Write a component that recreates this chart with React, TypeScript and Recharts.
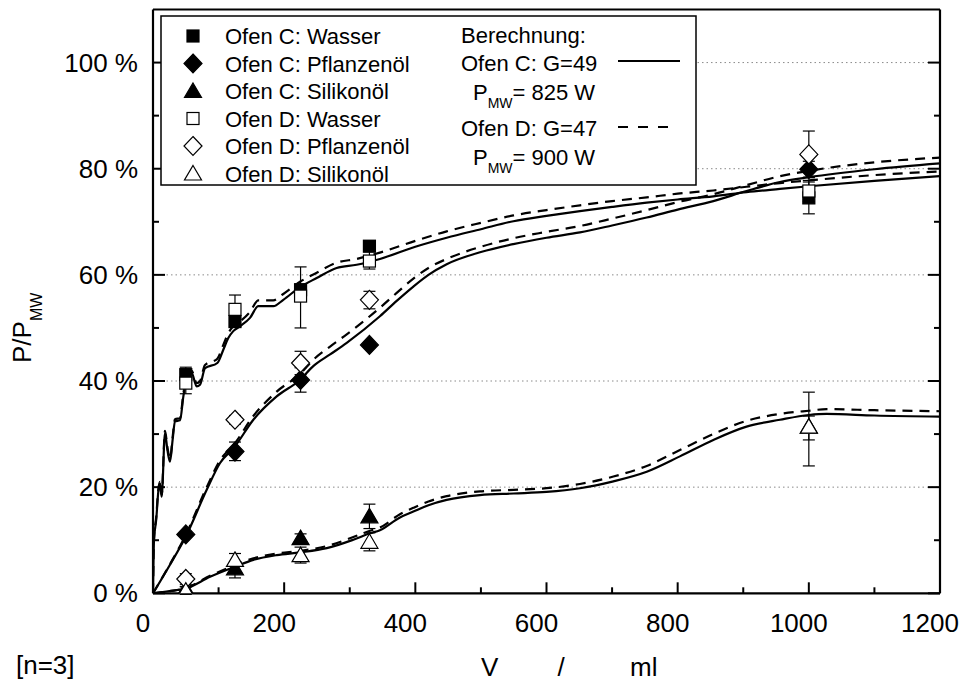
import React from "react";
import { ComposedChart, Line, Scatter, XAxis, YAxis, ErrorBar, ReferenceLine } from "recharts";

const FONT = "'Liberation Sans', Arial, Helvetica, sans-serif";

// measured volumes (ml)
const volumes = [50, 125, 225, 330, 1000];

// measured P/P_MW in %, Ofen C and Ofen D
const cWasser = [41.2, 51.2, 57.2, 65.4, 74.5];
const cPflanze = [11.1, 26.7, 40.2, 46.8, 79.9];
const cSilikon = [0.8, 4.7, 10.4, 14.5, 31.4];
const dWasser = [39.6, 53.5, 56.0, 62.6, 75.8];
const dPflanze = [2.7, 32.7, 43.4, 55.3, 82.7];
const dSilikon = [0.5, 6.3, 7.2, 9.7, 31.4];

// error bars [down, up]
const cWasserErr = [[1, 1], [1, 1], [1, 1], [1, 1], [3, 3]];
const cPflanzeErr = [[0.5, 0.5], [1.7, 1.8], [2.3, 2.3], [0.5, 0.5], [1.5, 1.5]];
const cSilikonErr = [[0.5, 0.5], [1.8, 1], [0.8, 0.8], [2.3, 2.3], [2.5, 6.5]];
const dWasserErr = [[2, 3], [2.5, 2.7], [6, 5.5], [1.5, 1.9], [2, 2]];
const dPflanzeErr = [[1, 1], [0.8, 0.8], [2.2, 2.2], [1.7, 1.6], [4.4, 4.4]];
const dSilikonErr = [[0.7, 0.7], [1.2, 1.2], [1.5, 1.5], [1.7, 1.7], [7.4, 2]];

// calculated curves
const waterX = [0, 1.5, 5, 8, 10.7, 13.2, 18.3, 22, 25.9, 30, 33.5, 41.2, 46.3, 51.3, 59, 66.6, 71.7, 79.3, 98.1, 107.2, 114.8, 122.4, 132.6, 147.9, 160.6, 183.5, 198.7, 224.2, 249.6, 280, 310.5, 346, 400, 447.8, 500, 549.5, 600, 651, 700, 752.8, 800, 854.4, 905, 956, 1000, 1100, 1200];
const waterC = [0, 10, 14, 19, 20.7, 18.2, 30.2, 27, 24.8, 29, 32.4, 32.6, 37.1, 40.6, 41.5, 39.0, 39.3, 42.4, 43.4, 45.9, 48.1, 49.4, 50.3, 51.9, 54.1, 54.1, 55.3, 57.7, 59.4, 61.3, 61.9, 63.0, 65.3, 67.0, 68.6, 70.1, 71.1, 72.0, 72.8, 73.6, 74.2, 74.8, 75.6, 76.2, 76.7, 77.7, 78.6];
const waterD = [0, 10.2, 14.5, 19.5, 21, 18.6, 30.6, 27.5, 25.3, 29.5, 32.8, 33, 37.6, 41, 41.9, 39.6, 40, 43, 44.2, 46.8, 49, 50.3, 51.2, 53, 55.2, 55.2, 56.4, 58.7, 60.4, 62.3, 63, 64.2, 66.4, 68.2, 69.8, 71.2, 72.2, 73.1, 73.9, 74.6, 75.3, 75.9, 76.6, 77.3, 77.8, 78.8, 79.5];

const oilX = [0, 25, 50, 81.9, 102, 125, 153, 188.6, 224, 244.4, 270, 295.4, 346, 371.6, 397, 420, 447.8, 500, 549.4, 600, 651, 700, 752.8, 800, 854.4, 905, 956, 1000, 1100, 1200];
const oilC = [0, 5.2, 10.7, 19.5, 24.5, 27.7, 32.7, 37.1, 40.2, 42.8, 45, 47.2, 52.2, 55.1, 57.8, 60, 62, 64.3, 65.8, 67, 68, 69.3, 70.8, 72.3, 73.9, 75.8, 77.5, 78.4, 79.9, 81];
const oilD = [0, 5.3, 11, 20, 25, 28.3, 33.4, 38, 41.3, 44, 46.5, 48.8, 53.8, 56.6, 59.3, 61.3, 63, 65.3, 66.9, 68.1, 69.2, 70.6, 72.2, 73.7, 75.2, 76.9, 78.6, 79.6, 81.2, 82.1];

const silX = [0, 25, 50, 87, 125, 153, 188.6, 224, 265, 305.5, 331, 346, 376.6, 397, 420, 447.8, 498.6, 550, 600, 651, 702, 752.8, 803.4, 854.4, 905, 956, 1000, 1027, 1100, 1200];
const silC = [0, 0.4, 0.9, 3.1, 5.0, 6.3, 7.2, 7.7, 8.5, 10.1, 11.3, 11.9, 14.3, 15.4, 16.6, 17.6, 18.5, 18.8, 19.1, 19.8, 21.1, 22.9, 25.8, 28.9, 31.4, 32.7, 33.6, 33.8, 33.5, 33.3];
const silD = [0, 0.4, 1.0, 3.3, 5.3, 6.6, 7.5, 8.0, 8.9, 10.6, 11.8, 12.4, 14.9, 16.1, 17.3, 18.3, 19.2, 19.5, 19.8, 20.6, 22.0, 24.0, 27.0, 30.0, 32.5, 33.8, 34.4, 34.7, 34.5, 34.3];

const xTicks = [0, 100, 200, 300, 400, 500, 600, 700, 800, 900, 1000, 1100, 1200];
const yTicks = [0, 10, 20, 30, 40, 50, 60, 70, 80, 90, 100];
const gridValues = [20, 40, 60, 80, 100];

const legendLabels = [
  "Ofen C: Wasser",
  "Ofen C: Pflanzenöl",
  "Ofen C: Silikonöl",
  "Ofen D: Wasser",
  "Ofen D: Pflanzenöl",
  "Ofen D: Silikonöl",
];

const toCurve = (xs: number[], ys: number[]) => xs.map((x, i) => ({ x, y: ys[i] }));
const toPoints = (ys: number[], errs: number[][]) =>
  volumes.map((x, i) => ({ x, y: ys[i], err: errs[i] }));

const drawSquare = (cx: number, cy: number, filled: boolean) => (
  <rect x={cx - 6} y={cy - 6} width={12} height={12} fill={filled ? "#000" : "#fff"} stroke="#000" strokeWidth={1.2} />
);
const drawDiamond = (cx: number, cy: number, filled: boolean) => (
  <polygon
    points={`${cx},${cy - 9.5} ${cx + 9},${cy} ${cx},${cy + 9.5} ${cx - 9},${cy}`}
    fill={filled ? "#000" : "#fff"}
    stroke="#000"
    strokeWidth={1.2}
  />
);
const drawTriangle = (cx: number, cy: number, filled: boolean) => (
  <polygon
    points={`${cx},${cy - 8} ${cx + 8.5},${cy + 6.5} ${cx - 8.5},${cy + 6.5}`}
    fill={filled ? "#000" : "#fff"}
    stroke="#000"
    strokeWidth={1.2}
  />
);
const markers = [
  (cx: number, cy: number) => drawSquare(cx, cy, true),
  (cx: number, cy: number) => drawDiamond(cx, cy, true),
  (cx: number, cy: number) => drawTriangle(cx, cy, true),
  (cx: number, cy: number) => drawSquare(cx, cy, false),
  (cx: number, cy: number) => drawDiamond(cx, cy, false),
  (cx: number, cy: number) => drawTriangle(cx, cy, false),
];

const series = [
  { name: legendLabels[0], data: toPoints(cWasser, cWasserErr) },
  { name: legendLabels[1], data: toPoints(cPflanze, cPflanzeErr) },
  { name: legendLabels[2], data: toPoints(cSilikon, cSilikonErr) },
  { name: legendLabels[3], data: toPoints(dWasser, dWasserErr) },
  { name: legendLabels[4], data: toPoints(dPflanze, dPflanzeErr) },
  { name: legendLabels[5], data: toPoints(dSilikon, dSilikonErr) },
];

const curves = [
  { key: "wc", data: toCurve(waterX, waterC), dashed: false },
  { key: "wd", data: toCurve(waterX, waterD), dashed: true },
  { key: "oc", data: toCurve(oilX, oilC), dashed: false },
  { key: "od", data: toCurve(oilX, oilD), dashed: true },
  { key: "sc", data: toCurve(silX, silC), dashed: false },
  { key: "sd", data: toCurve(silX, silD), dashed: true },
];

const textProps = { fontFamily: FONT, fill: "#000" };

// tick labels in the original sit ~10px left of their tick
const BottomTick = (p: any) => {
  const v = p.payload.value;
  const major = v % 200 === 0;
  return (
    <g>
      <line x1={p.x} x2={p.x} y1={p.y} y2={p.y - (major ? 11 : 6)} stroke="#000" strokeWidth={2} />
      {major && (
        <text x={p.x - 10} y={p.y + 39} textAnchor="middle" fontSize={26} {...textProps}>
          {v}
        </text>
      )}
    </g>
  );
};

const TopTick = (p: any) => {
  const major = p.payload.value % 200 === 0;
  return <line x1={p.x} x2={p.x} y1={p.y} y2={p.y + (major ? 11 : 6)} stroke="#000" strokeWidth={2} />;
};

const LeftTick = (p: any) => {
  const v = p.payload.value;
  const major = v % 20 === 0;
  return (
    <g>
      <line x1={p.x} x2={p.x + (major ? 12 : 6)} y1={p.y} y2={p.y} stroke="#000" strokeWidth={2} />
      {major && (
        <text x={p.x - 15} y={p.y + 9} textAnchor="end" fontSize={26} {...textProps}>
          {`${v} %`}
        </text>
      )}
    </g>
  );
};

const RightTick = (p: any) => {
  const major = p.payload.value % 20 === 0;
  return <line x1={p.x} x2={p.x - (major ? 12 : 6)} y1={p.y} y2={p.y} stroke="#000" strokeWidth={2} />;
};

const axisLine = { stroke: "#000", strokeWidth: 2.2 };

export default function App() {
  const rowY = [36, 63.5, 91, 118.5, 146, 173.5];
  return (
    <div style={{ position: "absolute", left: 0, top: 0, width: 964, height: 682, background: "#fff" }}>
      <ComposedChart width={964} height={682} margin={{ top: 8.5, right: 23, bottom: 48.7, left: 73 }}>
        <XAxis
          dataKey="x"
          type="number"
          domain={[0, 1200]}
          ticks={xTicks}
          interval={0}
          allowDataOverflow
          height={40}
          tickSize={0}
          tickMargin={0}
          axisLine={axisLine}
          tickLine={false}
          tick={<BottomTick />}
        />
        <XAxis
          xAxisId="top"
          orientation="top"
          type="number"
          domain={[0, 1200]}
          ticks={xTicks}
          interval={0}
          allowDataOverflow
          height={1}
          tickSize={0}
          tickMargin={0}
          axisLine={axisLine}
          tickLine={false}
          tick={<TopTick />}
        />
        <YAxis
          type="number"
          domain={[0, 110]}
          ticks={yTicks}
          interval={0}
          allowDataOverflow
          width={80}
          tickSize={0}
          tickMargin={0}
          axisLine={axisLine}
          tickLine={false}
          tick={<LeftTick />}
        />
        <YAxis
          yAxisId="right"
          orientation="right"
          type="number"
          domain={[0, 110]}
          ticks={yTicks}
          interval={0}
          allowDataOverflow
          width={1}
          tickSize={0}
          tickMargin={0}
          axisLine={axisLine}
          tickLine={false}
          tick={<RightTick />}
        />
        {gridValues.map((g) => (
          <ReferenceLine key={g} y={g} stroke="#8a8a8a" strokeWidth={1} strokeDasharray="1.5 3" />
        ))}
        {curves.map((c) => (
          <Line
            key={c.key}
            data={c.data}
            dataKey="y"
            type="monotone"
            stroke="#000"
            strokeWidth={2.2}
            strokeDasharray={c.dashed ? "10 7" : undefined}
            dot={false}
            activeDot={false}
            isAnimationActive={false}
          />
        ))}
        {series.map((s, i) => (
          <Scatter
            key={s.name}
            name={s.name}
            data={s.data}
            dataKey="y"
            isAnimationActive={false}
            shape={(p: any) => markers[i](p.cx, p.cy)}
          >
            <ErrorBar dataKey="err" direction="y" width={6} stroke="#000" strokeWidth={1.2} />
          </Scatter>
        ))}
      </ComposedChart>
      <svg width={964} height={682} style={{ position: "absolute", left: 0, top: 0, pointerEvents: "none" }}>
        <rect x={161} y={16} width={535} height={169} fill="#fff" stroke="#000" strokeWidth={1.5} />
        {legendLabels.map((l, i) => (
          <g key={l}>
            {markers[i](193, rowY[i])}
            <text x={225} y={rowY[i] + 8} fontSize={22} {...textProps}>
              {l}
            </text>
          </g>
        ))}
        <text x={461} y={43} fontSize={22} {...textProps}>Berechnung:</text>
        <text x={461} y={71} fontSize={22} {...textProps}>Ofen C: G=49</text>
        <line x1={618} x2={680} y1={61} y2={61} stroke="#000" strokeWidth={2.2} />
        <text x={473} y={100} fontSize={22} {...textProps}>
          P<tspan fontSize={14} dy={8}>MW</tspan>
          <tspan dy={-8}>= 825 W</tspan>
        </text>
        <text x={461} y={136} fontSize={22} {...textProps}>Ofen D: G=47</text>
        <line x1={618} x2={669} y1={127} y2={127} stroke="#000" strokeWidth={2.2} strokeDasharray="10 10" />
        <text x={473} y={165} fontSize={22} {...textProps}>
          P<tspan fontSize={14} dy={8}>MW</tspan>
          <tspan dy={-8}>= 900 W</tspan>
        </text>
        <text transform="translate(31,363) rotate(-90)" fontSize={26} {...textProps}>
          P/P<tspan fontSize={16} dy={11}>MW</tspan>
        </text>
        <text x={16} y={674} fontSize={26} {...textProps}>[n=3]</text>
        <text x={481} y={676} fontSize={26} {...textProps}>V</text>
        <text x={561} y={676} fontSize={26} textAnchor="middle" {...textProps}>/</text>
        <text x={630} y={676} fontSize={26} {...textProps}>ml</text>
      </svg>
    </div>
  );
}
